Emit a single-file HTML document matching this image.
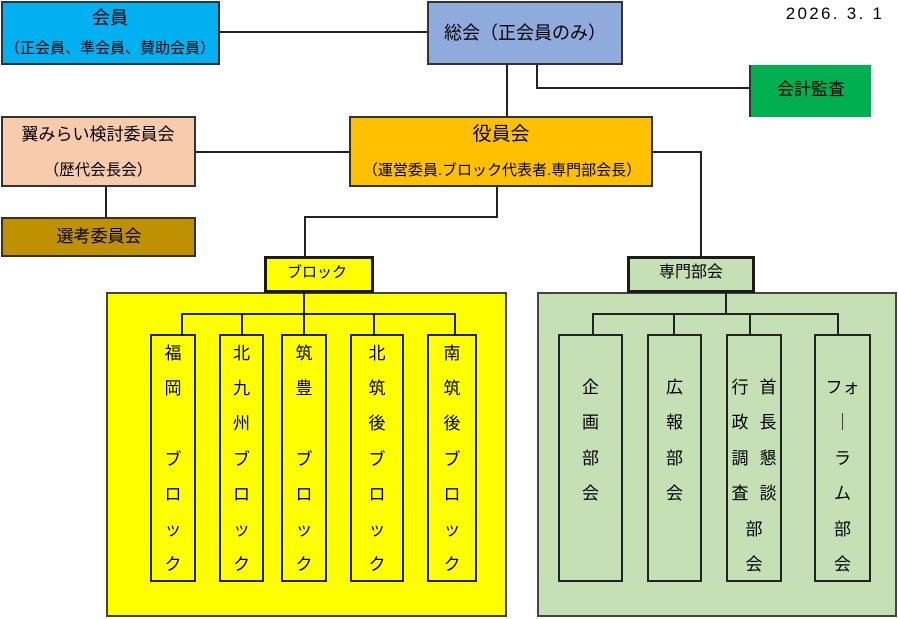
<!DOCTYPE html>
<html><head><meta charset="utf-8">
<style>
body{margin:0;width:898px;height:619px;background:#fff;position:relative;overflow:hidden;font-family:"Liberation Sans","Noto Sans CJK JP",sans-serif;color:#000}
.b{position:absolute;box-sizing:border-box;border:2px solid #333}
.t{position:absolute;white-space:nowrap;transform:translateX(-50%);text-align:center;line-height:24px;height:24px}
.col{position:absolute;box-sizing:border-box;border:2px solid #222;top:334px;height:248px;text-align:center;font-size:17px}
.y{line-height:35.2px;padding-top:0}
.g{line-height:35.4px;padding-top:34px}
svg{position:absolute;left:0;top:0}
</style></head><body>

<!-- big container boxes -->
<div class="b" style="left:106px;top:292px;width:401px;height:325px;background:#ffff00;border-color:#444"></div>
<div class="b" style="left:537px;top:292px;width:360px;height:325px;background:#c5e0b4;border-color:#444"></div>

<svg width="898" height="619" viewBox="0 0 898 619">
<g stroke="#222" stroke-width="2" fill="none">
<line x1="220" y1="32" x2="428" y2="32"/>
<line x1="507" y1="65" x2="507" y2="117"/>
<polyline points="537,65 537,88 750,88"/>
<line x1="196" y1="152" x2="350" y2="152"/>
<polyline points="653,152 701,152 701,256"/>
<line x1="106" y1="187" x2="106" y2="217"/>
<polyline points="497,187 497,217 305,217 305,256"/>
<line x1="304" y1="293" x2="304" y2="314"/>
<line x1="181" y1="314" x2="456" y2="314"/>
<line x1="182" y1="314" x2="182" y2="334"/>
<line x1="242" y1="314" x2="242" y2="334"/>
<line x1="304" y1="314" x2="304" y2="334"/>
<line x1="374" y1="314" x2="374" y2="334"/>
<line x1="455" y1="314" x2="455" y2="334"/>
<line x1="726" y1="293" x2="726" y2="314"/>
<line x1="592" y1="314" x2="839" y2="314"/>
<line x1="593" y1="314" x2="593" y2="334"/>
<line x1="674" y1="314" x2="674" y2="334"/>
<line x1="750" y1="314" x2="750" y2="334"/>
<line x1="838" y1="314" x2="838" y2="334"/>
</g>
</svg>

<!-- top level boxes -->
<div class="b" style="left:1px;top:1px;width:219px;height:64px;background:#00b0f0"></div>
<div class="t" style="left:110px;top:6px;font-size:18px">会員</div>
<div class="t" style="left:110px;top:37px;font-size:15px">（正会員、準会員、賛助会員）</div>

<div class="b" style="left:427px;top:1px;width:196px;height:64px;background:#8faadc"></div>
<div class="t" style="left:525px;top:21px;font-size:18px">総会（正会員のみ）</div>

<div class="t" style="left:835px;top:2px;font-size:17px;letter-spacing:2.3px">2026. 3. 1</div>

<div style="position:absolute;left:749px;top:65px;width:122px;height:52px;box-sizing:border-box;background:#00b050;border-left:2px solid #333"></div>
<div class="t" style="left:811px;top:78px;font-size:17px">会計監査</div>

<div class="b" style="left:1px;top:116px;width:195px;height:71px;background:#f8cbad"></div>
<div class="t" style="left:98px;top:123px;font-size:17px">翼みらい検討委員会</div>
<div class="t" style="left:98px;top:159px;font-size:15.5px">（歴代会長会）</div>

<div class="b" style="left:1px;top:217px;width:195px;height:40px;background:#bf9000"></div>
<div class="t" style="left:99px;top:225px;font-size:17px">選考委員会</div>

<div class="b" style="left:349px;top:116px;width:304px;height:71px;background:#ffc000"></div>
<div class="t" style="left:501px;top:123px;font-size:19px">役員会</div>
<div class="t" style="left:502px;top:159px;font-size:15px">（運営委員.ブロック代表者.専門部会長）</div>

<div class="b" style="left:264px;top:256px;width:110px;height:37px;background:#ffff00;border:3px solid #1a1a1a"></div>
<div class="t" style="left:317px;top:261px;font-size:15px">ブロック</div>

<div class="b" style="left:627px;top:256px;width:128px;height:37px;background:#c5e0b4;border:3px solid #1a1a1a"></div>
<div class="t" style="left:691px;top:261px;font-size:16px">専門部会</div>

<!-- block columns -->
<div class="col y" style="left:150px;width:46px">福<br>岡<br><br>ブ<br>ロ<br>ッ<br>ク</div>
<div class="col y" style="left:219px;width:45px">北<br>九<br>州<br>ブ<br>ロ<br>ッ<br>ク</div>
<div class="col y" style="left:281px;width:46px">筑<br>豊<br><br>ブ<br>ロ<br>ッ<br>ク</div>
<div class="col y" style="left:350px;width:54px">北<br>筑<br>後<br>ブ<br>ロ<br>ッ<br>ク</div>
<div class="col y" style="left:427px;width:50px">南<br>筑<br>後<br>ブ<br>ロ<br>ッ<br>ク</div>

<!-- committee columns -->
<div class="col g" style="left:558px;width:65px">企<br>画<br>部<br>会</div>
<div class="col g" style="left:647px;width:55px">広<br>報<br>部<br>会</div>
<div class="col g" style="left:726px;width:56px">行<span style="margin-left:11px">首</span><br>政<span style="margin-left:11px">長</span><br>調<span style="margin-left:11px">懇</span><br>査<span style="margin-left:11px">談</span><br>部<br>会</div>
<div class="col g" style="left:814px;width:57px">フォ<br>｜<br>ラ<br>ム<br>部<br>会</div>

</body></html>
